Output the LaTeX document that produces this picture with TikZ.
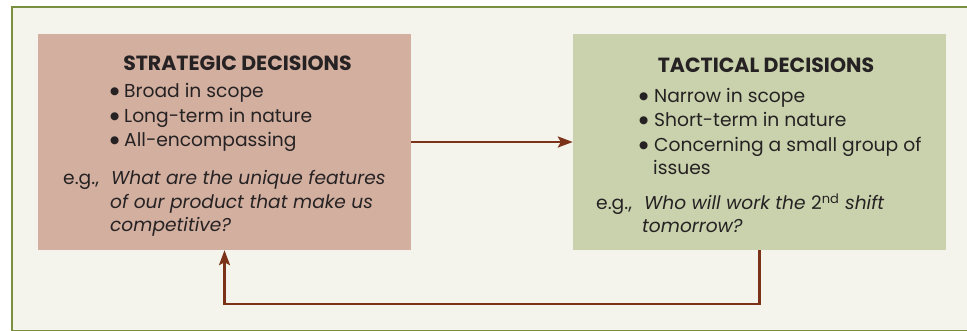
\documentclass[tikz,border=0pt]{standalone}
\usepackage{fontspec}
\setmainfont{Poppins}
\newfontfamily\symfont{DejaVu Sans}
\usetikzlibrary{arrows.meta}
\definecolor{frameC}{HTML}{7A9040}
\definecolor{paperC}{HTML}{F4F4EC}
\definecolor{stratC}{HTML}{D2AF9F}
\definecolor{tactC}{HTML}{C9D2AC}
\definecolor{arrowC}{HTML}{7B3219}
\definecolor{textC}{HTML}{262223}
\newcommand{\bul}[1]{\makebox[#1][l]{\raisebox{3pt}{\symfont\fontsize{10.5}{10}\selectfont ●}}}
\begin{document}
\begin{tikzpicture}[x=1pt,y=-1pt,
  box/.style={rectangle, draw=none, inner sep=0pt, minimum width=373pt, minimum height=216pt},
  txt/.style={anchor=base west, inner sep=0pt, text=textC, text height=13pt, text depth=3.5pt, font=\fontsize{18.7}{22}\selectfont},
  ttl/.style={anchor=base, inner sep=0pt, text=textC, text height=14pt, text depth=1pt, font=\fontsize{20.5}{22}\selectfont\bfseries},
  eg/.style={txt, font=\fontsize{18.6}{22}\selectfont\itshape},
  conn/.style={draw=arrowC, line width=2.4pt, -{Stealth[length=15pt,width=11pt,inset=3pt]}}
]
\clip (0,0) rectangle (967,331);
\fill[white] (0,0) rectangle (967,331);
\draw[frameC, line width=1.4pt, fill=paperC] (12,7) rectangle (990,330.5);

\node[box, fill=stratC] (strat) at (224.5,142) {};
\node[box, fill=tactC] (tact) at (759.5,142) {};

% strategic text
\node[ttl] (s0) at (237.5,71) {STRATEGIC DECISIONS};
\node[txt] (s1) at (110,98) {\bul{14pt}Broad in scope};
\node[txt] (s2) at (110,123) {\bul{14pt}Long-term in nature};
\node[txt] (s3) at (110,147) {\bul{14pt}All-encompassing};
\node[txt] (s4) at (63,185) {e.g.,};
\node[eg] (s5) at (111,185) {What are the unique features};
\node[eg] (s6) at (110,209) {of our product that make us};
\node[eg] (s7) at (110,232) {competitive?};

% tactical text
\node[ttl] (t0) at (766,73) {TACTICAL DECISIONS};
\node[txt] (t1) at (639,103) {\bul{15pt}Narrow in scope};
\node[txt] (t2) at (639,127) {\bul{15pt}Short-term in nature};
\node[txt] (t3) at (639,152) {\bul{15pt}Concerning a small group of};
\node[txt] (t4) at (653,175) {issues};
\node[txt] (t5) at (596,210) {e.g.,};
\node[eg] (t6) at (644,210) {Who will work the \textup{2\textsuperscript{nd}} shift};
\node[eg] (t7) at (642,233) {tomorrow?};

% connectors
\coordinate (fb) at (224.5,304);
\draw[conn] (strat.east) -- (tact.west);
\draw[conn] (tact.south) |- (fb) -- (strat.south);
\end{tikzpicture}
\end{document}
